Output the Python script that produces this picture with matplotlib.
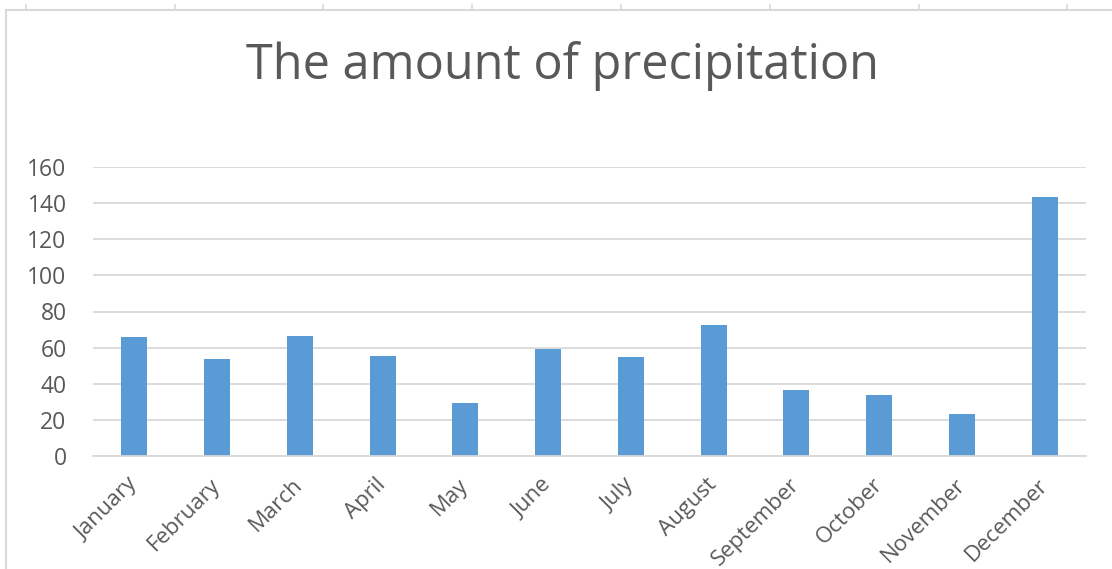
import matplotlib.pyplot as plt
from matplotlib.lines import Line2D

plt.rcParams.update({
    "font.family": ["Open Sans", "DejaVu Sans"],
    "font.size": 13})

months = ['January', 'February', 'March', 'April', 'May', 'June', 'July',
          'August', 'September', 'October', 'November', 'December']
precip = [65.7, 53.9, 66.4, 55.4, 29.4, 59.3, 54.8, 72.6, 36.3, 33.9, 23.3, 143.6]
yticks = [0, 20, 40, 60, 80, 100, 120, 140, 160]

bar_color = '#5B9BD5'
grid_color = '#D9D9D9'
text_color = '#595959'


def draw_chart():
    fig = plt.figure(figsize=(11.12, 5.69), dpi=100)
    ax = fig.add_axes([93 / 1112, 113 / 569, 993 / 1112, 289 / 569])

    x = range(len(months))
    ax.bar(x, precip, width=0.315, color=bar_color, zorder=3)

    ax.set_xlim(-0.5, len(months) - 0.5)
    ax.set_ylim(0, 160)
    ax.set_yticks(yticks)
    ax.set_xticks(list(x))
    ax.set_xticklabels(months, rotation=45, ha='right', va='center',
                       rotation_mode='anchor')

    ax.yaxis.grid(True, color=grid_color, linewidth=1.3, zorder=0)
    for side in ['top', 'right', 'left']:
        ax.spines[side].set_visible(False)
    ax.spines['bottom'].set_color(grid_color)
    ax.spines['bottom'].set_linewidth(1.3)
    ax.spines['bottom'].set_zorder(4)
    ax.tick_params(axis='both', length=0, colors=text_color)
    ax.tick_params(axis='y', pad=19, labelsize=16.5)
    ax.tick_params(axis='x', pad=18.5, labelsize=16)

    fig.text(562 / 1112, 1 - 66 / 569, 'The amount of precipitation',
             ha='center', va='center', fontsize=35, color=text_color)

    # chart area border (top and left edges visible)
    fig.add_artist(Line2D([5.5 / 1112, 5.5 / 1112], [0, 1 - 9.5 / 569],
                          color=grid_color, linewidth=1.5))
    fig.add_artist(Line2D([5.5 / 1112, 1], [1 - 9.5 / 569, 1 - 9.5 / 569],
                          color=grid_color, linewidth=1.5))
    for px in [26, 175, 323, 472, 621, 770, 919, 1067]:
        fig.add_artist(Line2D([px / 1112, px / 1112], [1 - 9.5 / 569, 1 - 5 / 569],
                              color=grid_color, linewidth=1.2))

    fig.savefig('out.png', dpi=100)


if __name__ == "__main__":
    draw_chart()
